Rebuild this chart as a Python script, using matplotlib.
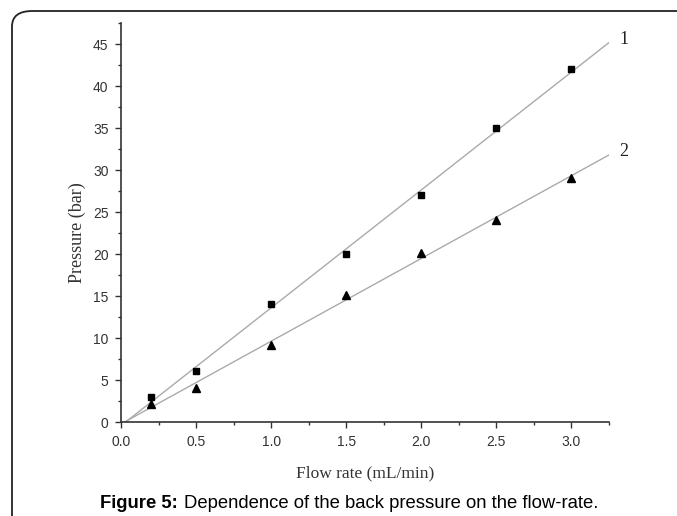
import matplotlib.pyplot as plt
import numpy as np
from matplotlib.patches import FancyBboxPatch
from matplotlib.ticker import MultipleLocator

# data
flow = [0.2, 0.5, 1.0, 1.5, 2.0, 2.5, 3.0]
p1 = [3.0, 6.1, 14.0, 20.0, 27.0, 35.0, 42.0]
p2 = [2.1, 4.1, 9.2, 15.1, 20.1, 24.1, 29.1]
curve_names = ["1", "2"]

fig = plt.figure(figsize=(6.77, 5.16), dpi=100)

# rounded frame around the figure (right and bottom edges are cut off)
frame = FancyBboxPatch((12/677, -0.1), 1.2, 1 - 11/516 + 0.1,
                       boxstyle="round,pad=0,rounding_size=0.03",
                       transform=fig.transFigure, fill=False,
                       edgecolor="#222222", linewidth=1.3)
fig.patches.append(frame)

ax = fig.add_axes([121/677, 1 - 422/516, (609-121)/677, (422-23)/516])

# linear fits, drawn from x-intercept to the end of the axis
for y, name in zip([p1, p2], curve_names):
    a, b = np.polyfit(flow, y, 1)
    xs = np.array([-b/a, 3.25])
    ax.plot(xs, a*xs + b, color="#aaaaaa", linewidth=1.0, zorder=1)
    ax.text(3.35, a*3.25 + b + 0.4, name, fontsize=13, ha="center", va="center",
            family="Liberation Serif", color="#222222", clip_on=False)

ax.plot(flow, p1, linestyle="", marker="s", markersize=4.8, color="black", zorder=3)
ax.plot(flow, p2, linestyle="", marker="^", markersize=5.8, color="black", zorder=3)

ax.set_xlim(0, 3.25)
ax.set_ylim(0, 47.5)
ax.xaxis.set_major_locator(MultipleLocator(0.5))
ax.xaxis.set_minor_locator(MultipleLocator(0.25))
ax.yaxis.set_major_locator(MultipleLocator(5))
ax.yaxis.set_minor_locator(MultipleLocator(2.5))
ax.xaxis.set_major_formatter(plt.FormatStrFormatter("%.1f"))

for s in ["top", "right"]:
    ax.spines[s].set_visible(False)
for s in ["left", "bottom"]:
    ax.spines[s].set_color("#333333")
    ax.spines[s].set_linewidth(1.2)

ax.tick_params(which="major", length=4, width=1, color="#333333",
               labelsize=10, labelcolor="#333333", pad=5)
ax.tick_params(which="minor", length=2.5, width=1, color="#333333")
for lbl in ax.get_xticklabels() + ax.get_yticklabels():
    lbl.set_family("Liberation Sans")

ax.set_xlabel("Flow rate (mL/min)", family="Liberation Serif", fontsize=12.5,
              color="#333333", labelpad=12)
ax.set_ylabel("Pressure (bar)", family="Liberation Serif", fontsize=13,
              color="#333333")
ax.yaxis.set_label_coords((86 - 121)/488, 0.474)

cap_y = 1 - 503/516
fig.text(100/677, cap_y, "Figure 5:", ha="left", va="center", fontsize=13.3,
         family="Liberation Sans", fontweight="bold")
fig.text(184/677, cap_y, "Dependence of the back pressure on the flow-rate.",
         ha="left", va="center", fontsize=13.3, family="Liberation Sans")

plt.savefig("out.png", dpi=100)
